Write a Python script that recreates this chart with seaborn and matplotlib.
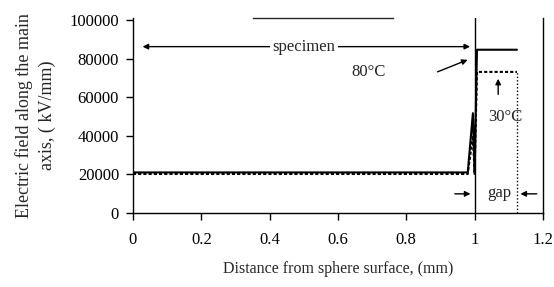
import numpy as np
import pandas as pd
import seaborn as sns
import matplotlib.pyplot as plt

# data
dist = [0.0, 0.1, 0.2, 0.3, 0.4, 0.5, 0.6, 0.7, 0.8, 0.9, 0.98, 0.995, 1.0, 1.007, 1.03, 1.06, 1.09, 1.124]
e_80 = [21000, 21000, 21000, 21000, 21000, 21000, 21000, 21000, 21000, 21000, 21000, 51700, 21000, 84600, 84600, 84600, 84600, 84600]
e_30 = [20200, 20200, 20200, 20200, 20200, 20200, 20200, 20200, 20200, 20200, 20200, 40000, 20200, 73100, 73100, 73100, 73100, 73100]
gap_end = 1.124
xticks = [0, 0.2, 0.4, 0.6, 0.8, 1.0, 1.2]
xtick_labels = ['0', '0.2', '0.4', '0.6', '0.8', '1', '1.2']
yticks = [0, 20000, 40000, 60000, 80000, 100000]

df = pd.DataFrame({'x': dist * 2, 'E': e_80 + e_30,
                   'T': ['80°C'] * len(dist) + ['30°C'] * len(dist)})

sns.set_style('ticks')
plt.rcParams['font.family'] = ['Liberation Serif', 'DejaVu Serif']

fig = plt.figure(figsize=(5.54, 2.87), dpi=100)
ax = fig.add_axes([0.240, 0.258, 0.740, 0.679])

sns.lineplot(data=df, x='x', y='E', hue='T', style='T', sort=False,
             palette={'80°C': 'black', '30°C': 'black'},
             dashes={'80°C': '', '30°C': (1.5, 1)}, linewidth=1.5,
             legend=False, ax=ax)

ax.axvline(1.0, color='black', lw=1)
ax.vlines(gap_end, 0, e_30[-1], color='black', lw=1, linestyles=(0, (1, 1.5)))

ax.set_xlim(0, 1.2)
ax.set_ylim(0, 101000)
ax.set_xticks(xticks)
ax.set_xticklabels(xtick_labels)
ax.set_yticks(yticks)
ax.tick_params(labelsize=12, length=5, width=1, colors='black')
ax.tick_params(axis='y', pad=5)
ax.tick_params(axis='x', pad=9)
for s in ['left', 'bottom', 'right']:
    ax.spines[s].set_color('black')
    ax.spines[s].set_linewidth(1)
ax.spines['top'].set_bounds(0.35, 0.76)
ax.spines['top'].set_linewidth(1)

ax.set_xlabel('Distance from sphere surface, (mm)', fontsize=11.5, labelpad=9)
ax.set_ylabel('Electric field along the main\naxis, ( kV/mm)', fontsize=13, labelpad=10,
              linespacing=1.4)

# annotations
arr = dict(arrowstyle='-|>', color='black', lw=1, mutation_scale=8)
ax.annotate('', xy=(0.02, 86200), xytext=(0.995, 86200),
            arrowprops=dict(arrowstyle='<|-|>', color='black', lw=1, mutation_scale=8))
ax.text(0.5, 86200, 'specimen', ha='center', va='center', fontsize=12,
        bbox=dict(facecolor='white', edgecolor='none', pad=2))
ax.text(0.69, 73100, '80°C', ha='center', va='center', fontsize=12)
ax.annotate('', xy=(0.987, 79900), xytext=(0.884, 72600), arrowprops=arr)
ax.text(1.089, 49600, '30°C', ha='center', va='center', fontsize=12)
ax.annotate('', xy=(1.069, 71000), xytext=(1.069, 60000), arrowprops=arr)
ax.text(1.072, 10500, 'gap', ha='center', va='center', fontsize=12)
ax.annotate('', xy=(0.996, 9900), xytext=(0.934, 9900), arrowprops=arr)
ax.annotate('', xy=(1.126, 9900), xytext=(1.19, 9900), arrowprops=arr)

fig.savefig('out.png', dpi=100)
